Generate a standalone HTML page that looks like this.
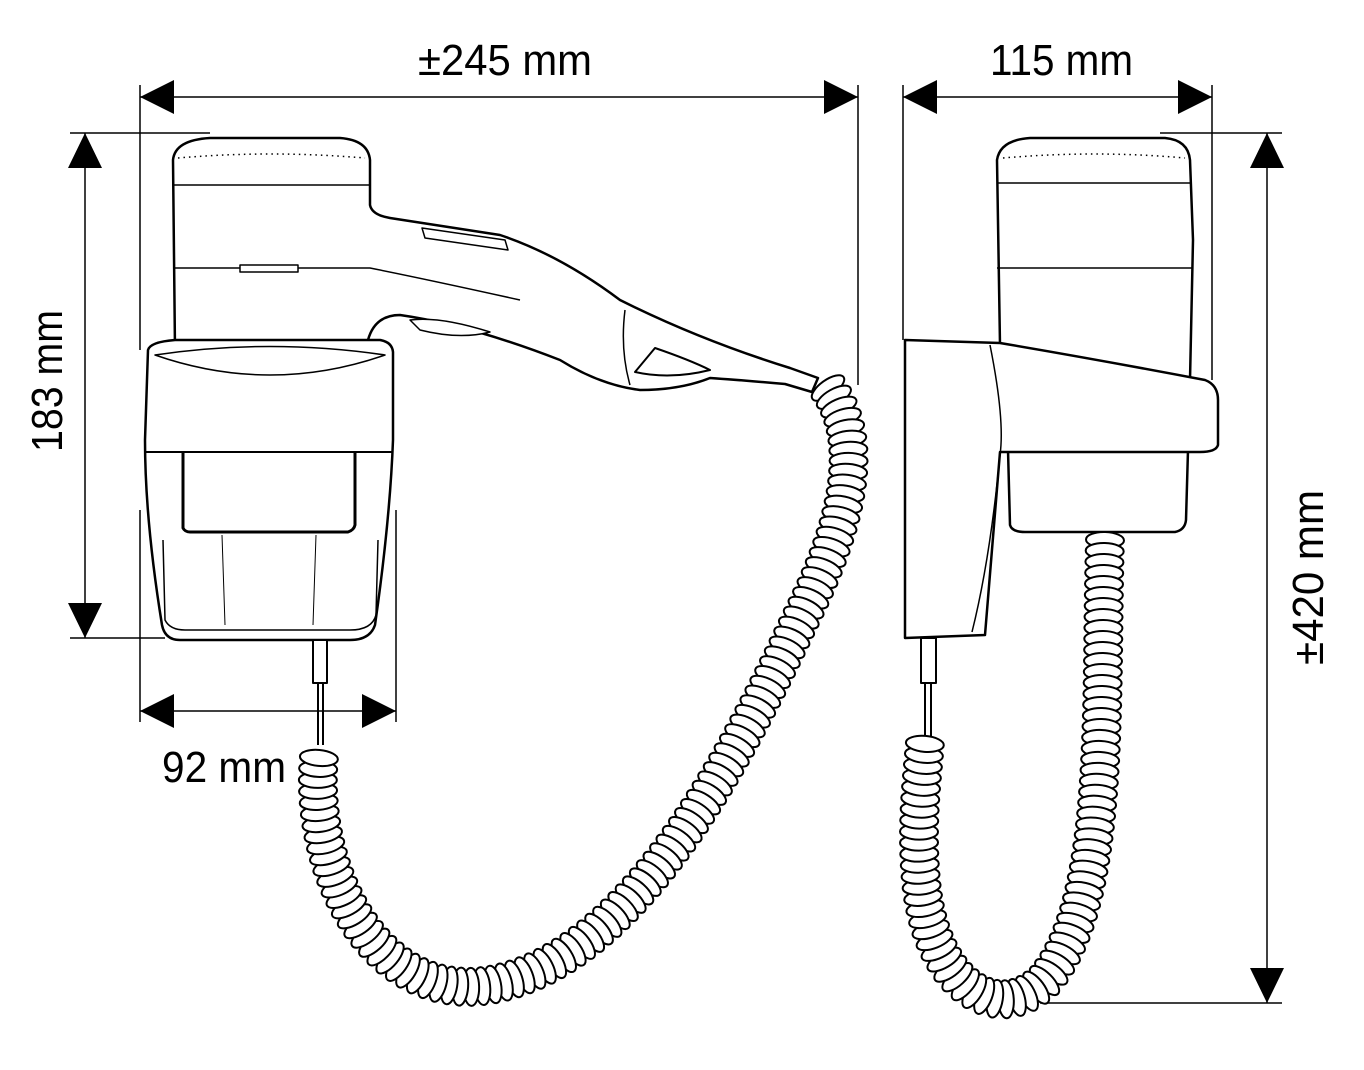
<!DOCTYPE html>
<html><head><meta charset="utf-8">
<style>
html,body{margin:0;padding:0;background:#fff;}
svg{display:block}
text{font-family:"Liberation Sans",sans-serif;fill:#000;}
</style></head>
<body>
<svg id="s" width="1364" height="1070" viewBox="0 0 1364 1070" xmlns="http://www.w3.org/2000/svg">
<g stroke="#000" stroke-width="1.5" fill="none">
<!-- dimension lines -->
<line x1="140" y1="97" x2="858" y2="97"/>
<line x1="140" y1="85" x2="140" y2="350"/>
<line x1="858" y1="85" x2="858" y2="385"/>
<line x1="903" y1="97" x2="1212" y2="97"/>
<line x1="903" y1="85" x2="903" y2="340"/>
<line x1="1212" y1="85" x2="1212" y2="380"/>
<line x1="85" y1="133" x2="85" y2="638"/>
<line x1="70" y1="133" x2="210" y2="133"/>
<line x1="70" y1="638" x2="165" y2="638"/>
<line x1="1267" y1="133" x2="1267" y2="1003"/>
<line x1="1160" y1="133" x2="1282" y2="133"/>
<line x1="1040" y1="1003" x2="1282" y2="1003"/>
<line x1="140" y1="711" x2="396" y2="711"/>
<line x1="140" y1="510" x2="140" y2="722"/>
<line x1="396" y1="510" x2="396" y2="722"/>
</g>
<g fill="#000">
<polygon points="140,97 174,80 174,114"/>
<polygon points="858,97 824,80 824,114"/>
<polygon points="903,97 937,80 937,114"/>
<polygon points="1212,97 1178,80 1178,114"/>
<polygon points="85,133 68,168 102,168"/>
<polygon points="85,638 68,603 102,603"/>
<polygon points="1267,133 1250,168 1284,168"/>
<polygon points="1267,1003 1250,968 1284,968"/>
<polygon points="140,711 174,694 174,728"/>
<polygon points="396,711 362,694 362,728"/>
</g>
<text x="418" y="75" font-size="44" textLength="174" lengthAdjust="spacingAndGlyphs">±245 mm</text>
<text x="990" y="75" font-size="44" textLength="143" lengthAdjust="spacingAndGlyphs">115 mm</text>
<text x="162" y="782" font-size="44" textLength="124" lengthAdjust="spacingAndGlyphs">92 mm</text>
<text transform="translate(62,452) rotate(-90)" font-size="44" textLength="142" lengthAdjust="spacingAndGlyphs">183 mm</text>
<text transform="translate(1323,665) rotate(-90)" font-size="44" textLength="175" lengthAdjust="spacingAndGlyphs">±420 mm</text>

<!-- Left dryer -->
<g stroke="#000" stroke-width="2.5" fill="#fff" stroke-linejoin="round">
<path d="M175,350 L173,160 Q175,140 210,138 L340,138 Q368,140 370,160 L370,205 Q372,215 390,218 L500,235 Q560,255 620,300 Q700,340 790,368 L818,378 L812,392 L785,384 Q740,380 710,378 Q680,390 640,390 Q600,385 560,360 Q470,325 400,315 Q375,315 368,340 L368,350 Z"/>
<path d="M173,185 L370,185" fill="none" stroke-width="1.5"/>
<path d="M173,268 L370,268 Q430,280 520,300" fill="none" stroke-width="1.5"/>
<rect x="240" y="265" width="58" height="7" stroke-width="1.5"/>
<path d="M422,228 L505,240 L508,250 L425,238 Z" stroke-width="1.5"/>
<path d="M410,320 Q440,316 490,332 Q460,340 420,330 Z" stroke-width="1.5"/>
<path d="M625,310 Q620,350 630,385" fill="none" stroke-width="1.5"/>
<path d="M635,372 L655,348 Q690,360 710,370 Q670,380 635,372 Z" stroke-width="2"/>
<path d="M178,158 Q270,150 365,158" fill="none" stroke-width="1.5" stroke-dasharray="1.5 4"/>
<!-- holder -->
<path d="M148,350 Q150,342 175,340 L380,340 Q392,342 393,352 L393,440 Q390,520 375,625 Q370,640 350,640 L180,640 Q165,640 162,625 Q145,520 145,440 Z"/>
<path d="M155,355 Q270,395 385,355 Q270,338 155,355 Z" stroke-width="1.5"/>
<path d="M145,452 L393,452" fill="none" stroke-width="2"/>
<path d="M183,452 L183,528 Q185,532 190,532 L348,532 Q354,530 355,525 L355,452" fill="none" stroke-width="3"/>
<path d="M163,540 L165,620 Q170,630 185,630 L350,630 Q372,630 376,615 L378,540" fill="none" stroke-width="1.5"/>
<path d="M222,535 L225,625 M316,535 L313,625" fill="none" stroke-width="1"/>
<rect x="313" y="640" width="14" height="43" stroke-width="2"/>
<line x1="318" y1="683" x2="318" y2="745" stroke-width="2"/>
<line x1="323" y1="683" x2="323" y2="745" stroke-width="2"/>
</g>

<!-- Right dryer -->
<g stroke="#000" stroke-width="2.5" fill="#fff" stroke-linejoin="round">
<path d="M1000,345 L997,160 Q1000,140 1030,138 L1165,138 Q1188,140 1190,160 L1193,240 L1190,380 L1000,380 Z"/>
<path d="M997,183 L1190,183 M997,268 L1192,268" fill="none" stroke-width="1.5"/>
<path d="M1003,158 Q1095,150 1185,158" fill="none" stroke-width="1.5" stroke-dasharray="1.5 4"/>
<path d="M1008,450 L1010,525 Q1012,532 1025,532 L1175,532 Q1185,530 1186,520 L1188,450 Z"/>
<path d="M905,340 L1000,343 Q1100,360 1205,380 Q1218,385 1218,400 L1218,445 Q1216,452 1200,452 L1000,452 L985,635 L905,638 Z"/>
<path d="M990,345 Q1005,420 1000,455 Q990,560 972,632" fill="none" stroke-width="1.5"/>
<rect x="921" y="638" width="15" height="45" stroke-width="2"/>
<line x1="925" y1="683" x2="925" y2="742" stroke-width="2"/>
<line x1="931" y1="683" x2="931" y2="742" stroke-width="2"/>
</g>

<path id="c1" d="M828,388 C865,440 850,520 800,620 C730,770 630,960 490,985 C370,1005 305,860 320,748" fill="none" stroke="none"/>
<path id="c2" d="M1105,540 C1100,700 1112,900 1045,980 C1000,1025 935,990 922,890 C915,830 922,780 925,742" fill="none" stroke="none"/>
<g id="coils" stroke="#000" stroke-width="2" fill="#fff"></g>
</svg>
<script>
(function(){
var ns="http://www.w3.org/2000/svg",g=document.getElementById("coils");
function coil(id,rx,ry,step){
 var p=document.getElementById(id),L=p.getTotalLength();
 for(var d=0;d<=L;d+=step){
  var a=p.getPointAtLength(d),b=p.getPointAtLength(Math.min(L,d+1)),c=p.getPointAtLength(Math.max(0,d-1));
  var ang=Math.atan2(b.y-c.y,b.x-c.x)*180/Math.PI;
  var e=document.createElementNS(ns,"ellipse");
  e.setAttribute("cx",a.x);e.setAttribute("cy",a.y);
  e.setAttribute("rx",ry);e.setAttribute("ry",rx);
  e.setAttribute("transform","rotate("+ang+" "+a.x+" "+a.y+")");
  g.appendChild(e);
 }
}
coil("c1",19,8,11);
coil("c2",19,8,11);
})();
</script>
</body></html>
